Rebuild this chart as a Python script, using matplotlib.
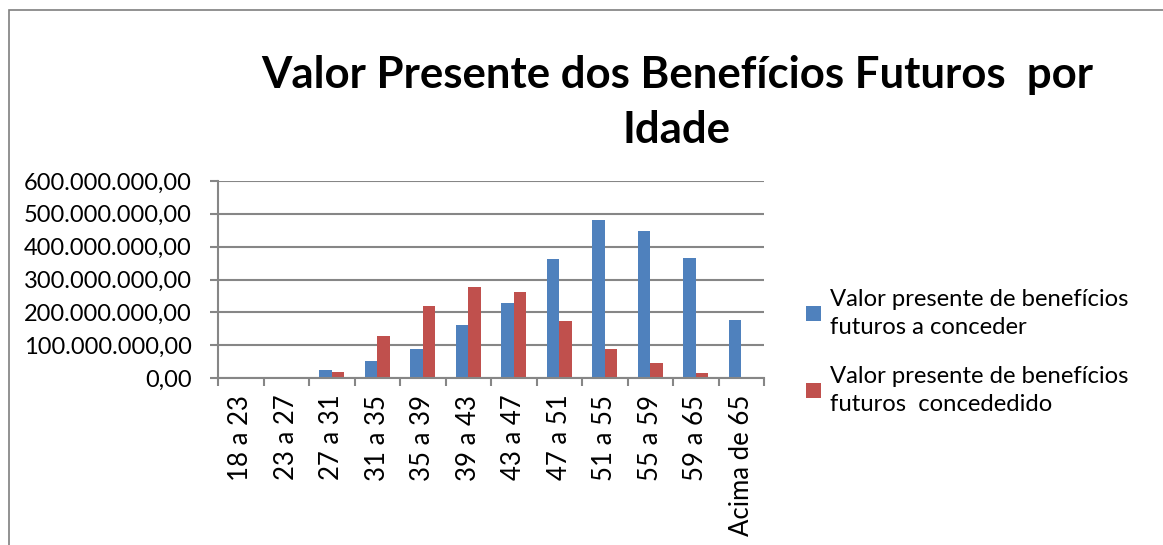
import matplotlib
matplotlib.use("Agg")
from matplotlib import pyplot as plt
from matplotlib.patches import Rectangle
from matplotlib.ticker import FuncFormatter, FixedLocator
import numpy as np

# dados (valores em reais)
faixas = ["18 a 23", "23 a 27", "27 a 31", "31 a 35", "35 a 39", "39 a 43",
          "43 a 47", "47 a 51", "51 a 55", "55 a 59", "59 a 65", "Acima de 65"]
a_conceder = [1e6, 4e6, 25.5e6, 52e6, 87e6, 161e6, 229e6, 361.5e6, 482e6, 449e6, 364e6, 178e6]
concedido = [4e6, 2e6, 18e6, 129e6, 219e6, 276e6, 261e6, 175e6, 88e6, 47e6, 16e6, 4e6]
nomes = ["Valor presente de benefícios\nfuturos a conceder",
         "Valor presente de benefícios\nfuturos  concededido"]

plt.rcParams['font.family'] = ['Lato', 'DejaVu Sans']

fig = plt.figure(figsize=(11.63, 5.45), dpi=100)
ax = fig.add_axes([218/1163, 1-378/545, (764-218)/1163, (378-181)/545])

# moldura do grafico
fig.patches.append(Rectangle((9/1163, -0.1), 1.2, 1-10/545+0.1, transform=fig.transFigure,
                             fill=False, edgecolor="#7f7f7f", linewidth=1.2))

x = np.arange(len(faixas))
w = 0.27
ax.bar(x - w/2, a_conceder, w, color="#4F81BD", label=nomes[0])
ax.bar(x + w/2, concedido, w, color="#C0504D", label=nomes[1])

ax.set_xlim(-0.5, len(faixas) - 0.5)
ax.set_ylim(0, 600e6)
ax.set_yticks(np.arange(0, 600e6 + 1, 100e6))
ax.yaxis.set_major_formatter(FuncFormatter(
    lambda v, p: f"{v:,.2f}".replace(",", "X").replace(".", ",").replace("X", ".")))
ax.grid(axis="y", color="#868686", linewidth=1.5)
ax.set_axisbelow(True)

ax.set_xticks(x)
ax.set_xticklabels(faixas, rotation=90, fontsize=18.5)
ax.xaxis.set_minor_locator(FixedLocator(np.arange(-0.5, len(faixas), 1)))
ax.tick_params(axis="x", which="major", length=0, pad=12)
ax.tick_params(axis="x", which="minor", length=6, color="#868686", width=1.5)
ax.tick_params(axis="y", length=6, color="#868686", width=1.5, labelsize=17, pad=13)

for s in ["top", "right"]:
    ax.spines[s].set_visible(False)
for s in ["left", "bottom"]:
    ax.spines[s].set_color("#868686")
    ax.spines[s].set_linewidth(1.5)

fig.text(677/1163, 1-75/545, "Valor Presente dos Benefícios Futuros  por",
         ha="center", va="center", fontsize=31.5, fontweight="bold")
fig.text(677/1163, 1-130/545, "Idade",
         ha="center", va="center", fontsize=31.5, fontweight="bold")

leg = fig.legend(loc="center left", bbox_to_anchor=(785/1163, 1-352/545), frameon=False,
                 fontsize=17.2, handlelength=0.6, handleheight=0.6, handletextpad=0.4,
                 labelspacing=1.15)
for t in leg.get_texts():
    t.set_linespacing(1.45)

fig.savefig("out.png", dpi=100)
